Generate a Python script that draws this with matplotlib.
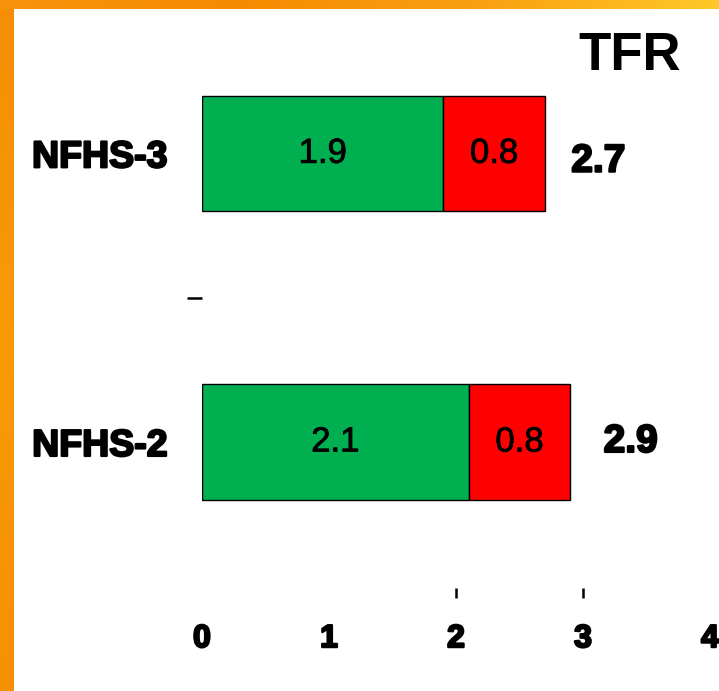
import matplotlib
matplotlib.use("Agg")
import matplotlib.pyplot as plt
import matplotlib.patheffects as pe
from matplotlib.colors import LinearSegmentedColormap
import numpy as np

# TFR split by survey: wanted (green) and unwanted (red)
surveys = ["NFHS-2", "NFHS-3"]
wanted = [2.1, 1.9]
unwanted = [0.8, 0.8]
totals = [2.9, 2.7]
x_ticks = [0, 1, 2, 3, 4]

GREEN = "#00B050"
RED = "#FF0000"
heavy = [pe.withStroke(linewidth=1.6, foreground="black")]
thin = [pe.withStroke(linewidth=0.6, foreground="black")]
# nudges for the total labels (points), as in the original slide
total_nudge = {"NFHS-2": (24, 0), "NFHS-3": (19, -6)}

plt.rcParams["font.family"] = ["Liberation Sans", "DejaVu Sans"]

W, H = 719, 691
fig = plt.figure(figsize=(W / 100, H / 100), dpi=100)
fig.patch.set_facecolor("white")

# orange frame, top and left
top_cmap = LinearSegmentedColormap.from_list(
    "top", ["#F7940C", "#F58B00", "#F9A010", "#FFC828"])
left_cmap = LinearSegmentedColormap.from_list(
    "left", ["#F58E05", "#F99A08", "#F78F04"])
grad = np.linspace(0, 1, 256)

top_ax = fig.add_axes([0, 1 - 9 / H, 1, 9 / H])
top_ax.imshow(grad[None, :], aspect="auto", cmap=top_cmap)
top_ax.axis("off")

left_ax = fig.add_axes([0, 0, 14 / W, 1 - 9 / H])
left_ax.imshow(grad[:, None], aspect="auto", cmap=left_cmap)
left_ax.axis("off")

# main bar axes
ax = fig.add_axes([202 / W, 103 / H, 508 / W, 579 / H])
y_pos = np.arange(len(surveys))

ax.barh(y_pos, wanted, height=0.4, color=GREEN, edgecolor="black", linewidth=1)
ax.barh(y_pos, unwanted, left=wanted, height=0.4, color=RED,
        edgecolor="black", linewidth=1)

for i, y in enumerate(y_pos):
    a = ax.text(wanted[i] / 2, y, f"{wanted[i]}", ha="center", va="center",
                fontsize=25)
    b = ax.text(wanted[i] + unwanted[i] / 2, y, f"{unwanted[i]}", ha="center",
                va="center", fontsize=25)
    a.set_path_effects(thin)
    b.set_path_effects(thin)
    t = ax.annotate(f"{totals[i]}", xy=(totals[i], y),
                    xytext=total_nudge[surveys[i]],
                    textcoords="offset points", ha="left", va="center",
                    fontsize=28, fontweight="bold")
    t.set_path_effects(heavy)

ax.set_xlim(0, 4)
ax.set_ylim(-0.506, 1.5)
for s in ax.spines.values():
    s.set_visible(False)

ax.set_yticks(y_pos, surveys)
ax.set_yticks([0.5], minor=True)
ax.tick_params(axis="y", which="major", length=0, pad=25, labelsize=27)
ax.tick_params(axis="y", which="minor", length=11, width=1.8)

ax.xaxis.remove_overlapping_locs = False
ax.set_xticks(x_ticks)
ax.set_xticks([2, 3], minor=True)
ax.tick_params(axis="x", which="major", length=0, pad=26, labelsize=23)
ax.tick_params(axis="x", which="minor", length=7, width=1.8)

for lab in ax.get_yticklabels() + ax.get_xticklabels():
    lab.set_fontweight("bold")
    lab.set_path_effects(heavy)

fig.text(630 / W, 1 - 56 / H, "TFR", ha="center", va="center",
         fontsize=38, fontweight="bold")

fig.savefig("out.png", dpi=100)
